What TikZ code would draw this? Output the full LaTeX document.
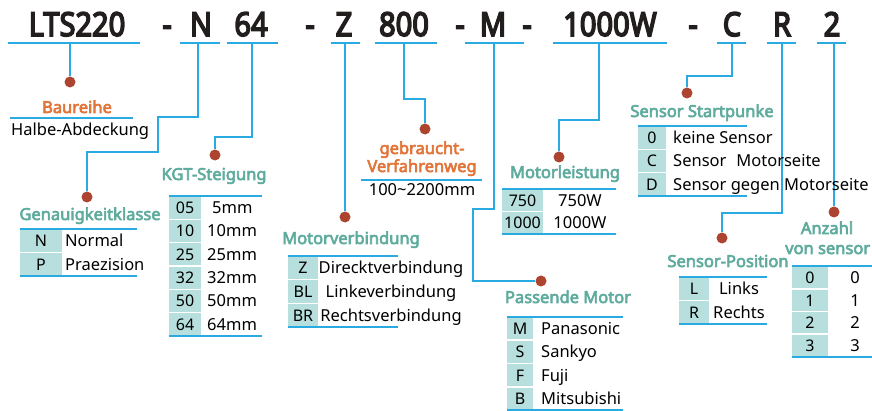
\documentclass[tikz,border=0pt]{standalone}
\usepackage{fontspec}
\setmainfont{Noto Sans}
\newfontfamily\bfam{Noto Sans}[FakeBold=3.6]
\newfontfamily\tfam{Noto Sans}[FakeBold=5]
\definecolor{lineblue}{RGB}{41,171,226}
\definecolor{dotred}{RGB}{172,68,48}
\definecolor{headorange}{RGB}{226,118,58}
\definecolor{headteal}{RGB}{95,172,158}
\definecolor{keybg}{RGB}{182,223,221}
\definecolor{topblack}{RGB}{35,30,30}
\newcommand{\KVtable}[9]{%
  \foreach[count=\ii] \kk/\vv in {#9}{%
    \fill[keybg] (#2,{#5+(\ii-1)*#6+0.8}) rectangle (#3,{#5+\ii*#6-0.8});
    \node[keytxt] (#1-k\ii) at ({(#2+#3)/2},{#5+(\ii-0.5)*#6+6}) {\kk};
    \node[valtxt,#8] (#1-v\ii) at (#3,{#5+(\ii-0.5)*#6+6}) {\vv};
  }
  \draw[tl] (#2,#5) -- (#4,#5);
  \draw[tl] (#2,{#5+#6*#7}) -- (#4,{#5+#6*#7});
}
\newcommand{\TopTxt}[1]{\scalebox{0.88}[1]{#1}}
\begin{document}
\begin{tikzpicture}[x=1pt,y=-1pt,
  bl/.style={draw=lineblue,line width=1.5pt},
  tl/.style={draw=lineblue,line width=1.6pt},
  dot/.style={circle,fill=dotred,inner sep=0pt,minimum size=11pt},
  top/.style={font=\tfam\fontsize{33}{36}\selectfont,text=topblack,inner sep=0pt,anchor=base},
  headO/.style={font=\bfam\fontsize{16.5}{18}\selectfont,text=headorange,inner sep=0pt,anchor=base},
  headT/.style={font=\bfam\fontsize{16.5}{18}\selectfont,text=headteal,inner sep=0pt,anchor=base},
  txt/.style={font=\fontsize{16.5}{18}\selectfont,text=black,inner sep=0pt,anchor=base},
  keytxt/.style={font=\fontsize{16}{18}\selectfont,text=black,inner sep=0pt,anchor=base},
  valtxt/.style={font=\fontsize{16.5}{18}\selectfont,text=black,inner sep=0pt}
]
\useasboundingbox[fill=white] (0,0) rectangle (872,411);

% top code row
\node[top] (tLTS) at (77,36) {\TopTxt{LTS220}};
\node[top] (m1) at (167,36) {\TopTxt{-}};
\node[top] (tN) at (201,36) {\TopTxt{N}};
\node[top] (t64) at (251,36) {\TopTxt{64}};
\node[top] (m2) at (310,36) {\TopTxt{-}};
\node[top] (tZ) at (344,36) {\TopTxt{Z}};
\node[top] (t800) at (404,36) {\TopTxt{800}};
\node[top] (m3) at (460,36) {\TopTxt{-}};
\node[top] (tM) at (493,36) {\TopTxt{M}};
\node[top] (m4) at (527,36) {\TopTxt{-}};
\node[top] (tW) at (610,36) {\TopTxt{1000W}};
\node[top] (m5) at (693,36) {\TopTxt{-}};
\node[top] (tC) at (732,36) {\TopTxt{C}};
\node[top] (tR) at (782,36) {\TopTxt{R}};
\node[top] (t2) at (832,36) {\TopTxt{2}};

\foreach \a/\b in {8/140,180/220,227/278,331/360,375/437,465/524,553/667,717/746,767/796,817/846}
  \draw[tl] (\a,43) -- (\b,43);

% connector start points
\coordinate (cL) at (70,43);
\coordinate (cN) at (198,43);
\coordinate (c64) at (252,43);
\coordinate (cZ) at (345,43);
\coordinate (c800) at (404,43);
\coordinate (cM) at (494,43);
\coordinate (cW) at (599,43);
\coordinate (cC) at (732,43);
\coordinate (cR) at (782,43);
\coordinate (c2) at (834,43);

% dots
\node[dot] (dL) at (70,82) {};
\node[dot] (dN) at (87,197) {};
\node[dot] (d64) at (215,155) {};
\node[dot] (dZ) at (345,217) {};
\node[dot] (d800) at (425,129) {};
\node[dot] (dM) at (541,281) {};
\node[dot] (dW) at (559,157) {};
\node[dot] (dC) at (687,93) {};
\node[dot] (dR) at (722,238) {};
\node[dot] (d2) at (834,212) {};

% connectors
\draw[bl] (cL) -- (dL.north);
\draw[bl] (cN) -- (198,117) -- (158,117) -- (158,152) -- (87,152) -- (dN.north);
\draw[bl] (c64) -- (252,137) -- (215,137) -- (d64.north);
\draw[bl] (cZ) -- (dZ.north);
\draw[bl] (c800) -- (404,99) -- (425,99) -- (d800.north);
\draw[bl] (cM) -- (494,209) -- (473,209) -- (473,281) -- (dM.west);
\draw[bl] (cW) -- (599,120) -- (559,120) -- (dW.north);
\draw[bl] (cC) -- (732,76) -- (687,76) -- (dC.north);
\draw[bl] (cR) -- (782,213) -- (722,213) -- (dR.north);
\draw[bl] (c2) -- (d2.north);

% Baureihe
\node[headO] (hBau) at (77,113) {Baureihe};
\draw[tl] (10,118) -- (133,118);
\node[txt,anchor=base west] (vBau) at (11,136) {Halbe-Abdeckung};

% Genauigkeitklasse
\node[headT] (hGen) at (90,220) {Genauigkeitklasse};
\KVtable{gen}{20}{62}{137}{229}{23.5}{2}{anchor=base west,xshift=3pt}{N/Normal,P/Praezision}

% KGT-Steigung
\node[headT] (hKGT) at (214,180) {KGT-Steigung};
\KVtable{kgt}{169}{201}{262}{196}{23.33}{6}{anchor=base west,xshift=6pt}{05/\hspace{5pt}5mm,10/10mm,25/25mm,32/32mm,50/50mm,64/64mm}

% gebraucht-Verfahrenweg
\node[headO] (hGeb1) at (422,154) {gebraucht-};
\node[headO] (hGeb2) at (422,172) {Verfahrenweg};
\draw[tl] (361,180) -- (482,180);
\node[txt] (vGeb) at (422,196) {100\textasciitilde 2200mm};

% Motorverbindung
\node[headT] (hMV) at (351,244) {Motorverbindung};
\KVtable{mv}{288}{318}{398}{256}{23.67}{3}{anchor=base,xshift=73pt}{Z/Direcktverbindung,BL/Linkeverbindung,BR/Rechtsverbindung}

% Passende Motor
\node[headT] (hPM) at (568,303) {Passende Motor};
\KVtable{pm}{507}{533}{623}{317}{23.25}{4}{anchor=base west,xshift=8pt}{M/Panasonic,S/Sankyo,F/Fuji,B/Mitsubishi}

% Motorleistung
\node[headT] (hML) at (565,178) {Motorleistung};
\KVtable{ml}{502}{543}{616}{189}{22.5}{2}{anchor=base,xshift=37pt}{750/750W,1000/1000W}

% Sensor Startpunke
\node[headT] (hSS) at (702,117) {Sensor Startpunke};
\KVtable{ss}{638}{666}{747}{126}{23.33}{3}{anchor=base west,xshift=7pt}{0/keine Sensor,C/Sensor\hspace{0.6em}Motorseite,D/Sensor gegen Motorseite}

% Sensor-Position
\node[headT] (hSP) at (728,267) {Sensor-Position};
\KVtable{sp}{679}{709}{767}{277}{23.5}{2}{anchor=base,xshift=30pt}{L/Links,R/Rechts}

% Anzahl von sensor
\node[headT] (hAn1) at (827,234) {Anzahl};
\node[headT,anchor=base west] (hAn2) at (785,254) {von sensor};
\KVtable{an}{792}{828}{872}{266}{22.75}{4}{anchor=base,xshift=27pt}{0/0,1/1,2/2,3/3}
\end{tikzpicture}
\end{document}
